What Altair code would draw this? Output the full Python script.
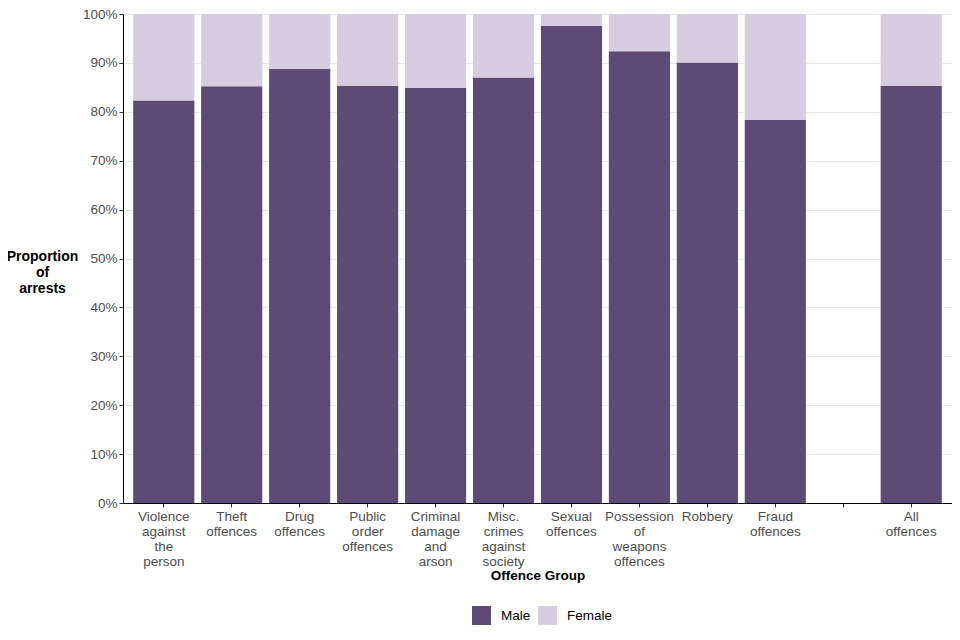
import altair as alt
import pandas as pd

categories = [
    "Violence\nagainst\nthe\nperson",
    "Theft\noffences",
    "Drug\noffences",
    "Public\norder\noffences",
    "Criminal\ndamage\nand\narson",
    "Misc.\ncrimes\nagainst\nsociety",
    "Sexual\noffences",
    "Possession\nof\nweapons\noffences",
    "Robbery",
    "Fraud\noffences",
    "All\noffences",
]
domain_order = categories[:10] + [" "] + categories[10:]

male = [82.3, 85.2, 88.8, 85.3, 84.9, 87.0, 97.6, 92.4, 90.1, 78.3, 85.3]
female = [17.7, 14.8, 11.2, 14.7, 15.1, 13.0, 2.4, 7.6, 9.9, 21.7, 14.7]

rows = []
for c, m, f in zip(categories, male, female):
    rows.append({"group": c, "sex": "Male", "value": m / 100, "ord": 0})
    rows.append({"group": c, "sex": "Female", "value": f / 100, "ord": 1})
df = pd.DataFrame(rows)

FONT = "Liberation Sans"

chart = alt.Chart(df).mark_bar().encode(
    x=alt.X(
        "group:N",
        scale=alt.Scale(domain=domain_order, paddingInner=0.1, paddingOuter=0.15),
        sort=domain_order,
        axis=alt.Axis(
            title="Offence Group",
            labelAngle=0,
            labelExpr="split(datum.label, '\\n')",
            labelLineHeight=15,
            labelFontSize=13.5,
            labelColor="#4d4d4d",
            labelPadding=2,
            titleFontSize=13.5,
            titleFontWeight="bold",
            titleColor="#000000",
            titlePadding=1,
            tickColor="#333333",
            tickSize=4,
            domainColor="#000000",
            grid=False,
        ),
    ),
    y=alt.Y(
        "value:Q",
        stack="zero",
        scale=alt.Scale(domain=[0, 1], nice=False),
        axis=alt.Axis(
            title=["Proportion", "of", "arrests"],
            format=".0%",
            values=[i / 10 for i in range(11)],
            titleAngle=0,
            titleAlign="center",
            titleBaseline="middle",
            titleX=-81,
            titleY=242,
            titleFontSize=14,
            titleFontWeight="bold",
            titleColor="#000000",
            labelFontSize=13.5,
            labelColor="#4d4d4d",
            tickColor="#333333",
            tickSize=4,
            domainColor="#000000",
            gridColor="#e6e6e6",
        ),
    ),
    color=alt.Color(
        "sex:N",
        scale=alt.Scale(domain=["Male", "Female"], range=["#5D4A75", "#D7CDE1"]),
        legend=alt.Legend(
            title=None,
            orient="none",
            direction="horizontal",
            legendX=349,
            legendY=592,
            symbolType="square",
            symbolSize=361,
            symbolStrokeWidth=0,
            labelFontSize=13.5,
            labelColor="#000000",
            columnPadding=7,
            labelOffset=10,
        ),
    ),
    order=alt.Order("ord:Q"),
).properties(
    width=829,
    height=489,
    autosize=alt.AutoSizeParams(type="none"),
    padding={"left": 115, "top": 6, "right": 0, "bottom": 125},
).configure(
    font=FONT,
).configure_view(
    stroke=None,
)

chart.save("out.html", embed_options={"renderer": "svg", "actions": False})
